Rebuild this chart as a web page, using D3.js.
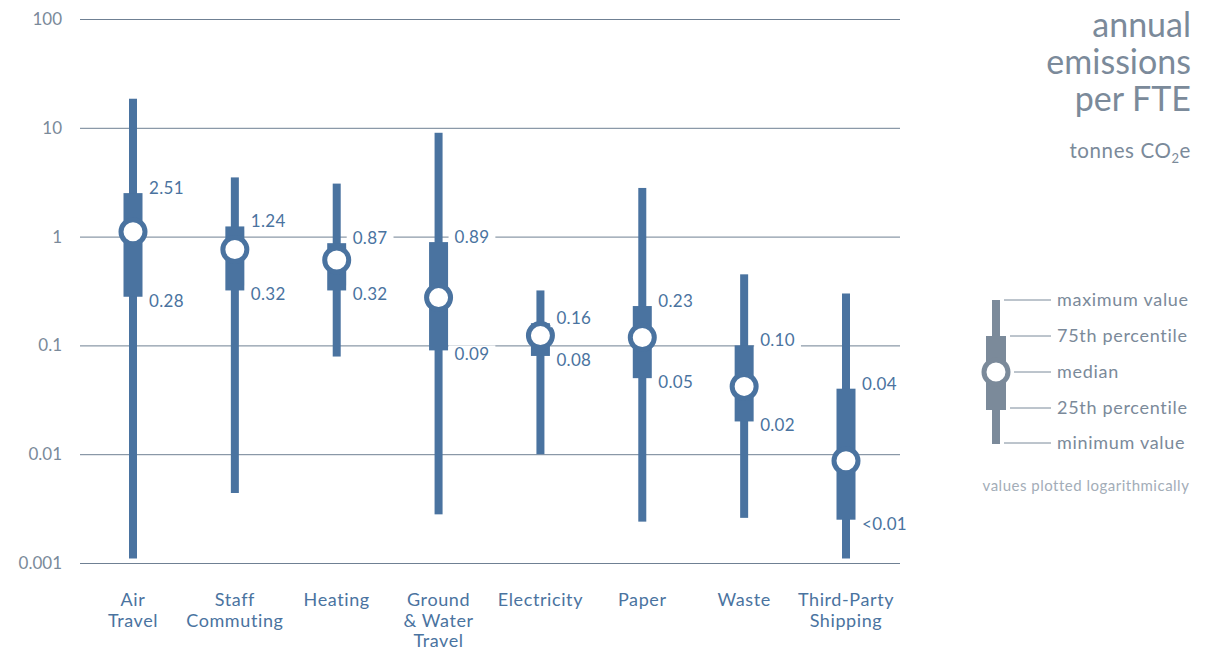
<!DOCTYPE html>
<html>
<head>
<meta charset="utf-8">
<script src="https://cdn.jsdelivr.net/npm/d3@7"></script>
<style>
  body { margin: 0; background: #fff; }
  svg { font-family: Lato, "Open Sans", sans-serif; }
</style>
</head>
<body>
<div id="chart"></div>
<script>
// categories and their wrapped labels
var categories = ["Air Travel", "Staff Commuting", "Heating", "Ground & Water Travel",
                  "Electricity", "Paper", "Waste", "Third-Party Shipping"];
var categoryLines = [["Air", "Travel"], ["Staff", "Commuting"], ["Heating"], ["Ground", "& Water", "Travel"],
                     ["Electricity"], ["Paper"], ["Waste"], ["Third-Party", "Shipping"]];

// tonnes CO2e per FTE
var maxValues    = [18.5, 3.5, 3.07, 9.0, 0.32, 2.8, 0.45, 0.30];
var q3Values     = [2.51, 1.24, 0.87, 0.89, 0.16, 0.23, 0.10, 0.04];
var medianValues = [1.11, 0.76, 0.61, 0.275, 0.123, 0.118, 0.042, 0.0087];
var q1Values     = [0.28, 0.32, 0.32, 0.09, 0.08, 0.05, 0.02, 0.0025];
var minValues    = [0.0011, 0.0044, 0.079, 0.0028, 0.01, 0.0024, 0.0026, 0.0011];

var tickValues = [100, 10, 1, 0.1, 0.01, 0.001];
var tickLabels = ["100", "10", "1", "0.1", "0.01", "0.001"];

var legendItems = ["maximum value", "75th percentile", "median", "25th percentile", "minimum value"];

var blue = "#4a73a0", grey = "#7b8a9a";

var svg = d3.select("#chart").append("svg")
    .attr("width", 1209)
    .attr("height", 650);

var x = d3.scalePoint().domain(categories).range([133, 846]);
var y = d3.scaleLog().domain([0.001, 100]).range([563, 19]);

// gridlines + tick labels
var yAxis = svg.append("g")
    .attr("transform", "translate(80,0)")
    .call(d3.axisLeft(y).tickValues(tickValues)
        .tickFormat(function(d, i) { return tickLabels[i]; })
        .tickSize(-820).tickPadding(18));
yAxis.select(".domain").remove();
yAxis.selectAll(".tick line").attr("stroke", "#6f8093").attr("stroke-width", 1);
yAxis.selectAll(".tick text")
    .attr("fill", grey)
    .style("font-size", "17px")
    .style("font-family", "Lato, sans-serif");

var rows = categories.map(function(c, i) {
    return { cat: c, lines: categoryLines[i], max: maxValues[i], q3: q3Values[i],
             med: medianValues[i], q1: q1Values[i], min: minValues[i] };
});

function fmt(v) { return v < 0.01 ? "<0.01" : v.toFixed(2); }

var g = svg.selectAll("g.box").data(rows).enter().append("g")
    .attr("class", "box")
    .attr("transform", function(d) { return "translate(" + x(d.cat) + ",0)"; });

// whisker
g.append("rect")
    .attr("x", -4).attr("width", 8)
    .attr("y", function(d) { return y(d.max); })
    .attr("height", function(d) { return y(d.min) - y(d.max); })
    .attr("fill", blue);

// inter-quartile box
g.append("rect")
    .attr("x", -9.5).attr("width", 19)
    .attr("y", function(d) { return y(d.q3); })
    .attr("height", function(d) { return y(d.q1) - y(d.q3); })
    .attr("fill", blue);

// median
g.append("circle")
    .attr("cy", function(d) { return y(d.med); })
    .attr("r", 12)
    .attr("fill", "#fff")
    .attr("stroke", blue)
    .attr("stroke-width", 5);

// value labels with white backing so gridlines break
function addLabel(sel, key, dy) {
    var lab = sel.append("g")
        .attr("transform", function(d) { return "translate(0," + (y(d[key]) + dy) + ")"; });
    lab.append("text")
        .attr("x", 16)
        .attr("dy", "0.35em")
        .attr("fill", blue)
        .style("font-size", "17px")
        .style("letter-spacing", "0.3px")
        .text(function(d) { return fmt(d[key]); });
    lab.insert("rect", "text")
        .attr("x", 10)
        .attr("y", -9)
        .attr("height", 18)
        .attr("width", function() { return this.parentNode.querySelector("text").getComputedTextLength() + 12; })
        .attr("fill", "#fff");
}
addLabel(g, "q3", -5);
addLabel(g, "q1", 4);

// category labels
var cl = g.append("text")
    .attr("text-anchor", "middle")
    .attr("fill", blue)
    .style("font-size", "18px")
    .style("letter-spacing", "0.6px");
cl.selectAll("tspan").data(function(d) { return d.lines; }).enter().append("tspan")
    .attr("x", 0)
    .attr("y", function(d, i) { return 606 + i * 20.5; })
    .text(function(d) { return d; });

// title
var title = svg.append("text")
    .attr("text-anchor", "end")
    .attr("fill", grey)
    .style("font-size", "34px");
["annual", "emissions", "per FTE"].forEach(function(s, i) {
    title.append("tspan").attr("x", 1191).attr("y", 37 + i * 37).text(s);
});
var unit = svg.append("text")
    .attr("x", 1191).attr("y", 158)
    .attr("text-anchor", "end")
    .attr("fill", grey)
    .style("font-size", "20.5px")
    .style("letter-spacing", "0.6px");
unit.append("tspan").text("tonnes CO");
unit.append("tspan").attr("dy", 5).style("font-size", "13px").text("2");
unit.append("tspan").attr("dy", -5).text("e");

// legend
var legendY = [300, 336, 372, 408, 443];
var legendLineStart = [1004, 1010, 1014, 1010, 1004];
var lg = svg.append("g");
lg.append("rect").attr("x", 992).attr("y", 300).attr("width", 8).attr("height", 144).attr("fill", grey);
lg.append("rect").attr("x", 986).attr("y", 336).attr("width", 20).attr("height", 74).attr("fill", grey);
lg.append("circle").attr("cx", 996).attr("cy", 372).attr("r", 12)
    .attr("fill", "#fff").attr("stroke", grey).attr("stroke-width", 5);
legendItems.forEach(function(s, i) {
    lg.append("line")
        .attr("x1", legendLineStart[i]).attr("x2", 1051)
        .attr("y1", legendY[i]).attr("y2", legendY[i])
        .attr("stroke", grey).attr("stroke-width", 1);
    lg.append("text")
        .attr("x", 1057).attr("y", legendY[i]).attr("dy", "0.35em")
        .attr("fill", grey)
        .style("font-size", "18px")
        .style("letter-spacing", "0.7px")
        .text(s);
});
svg.append("text")
    .attr("x", 1086).attr("y", 491)
    .attr("text-anchor", "middle")
    .attr("fill", "#a3adb8")
    .style("font-size", "15px")
    .style("letter-spacing", "0.5px")
    .text("values plotted logarithmically");
</script>
</body>
</html>
